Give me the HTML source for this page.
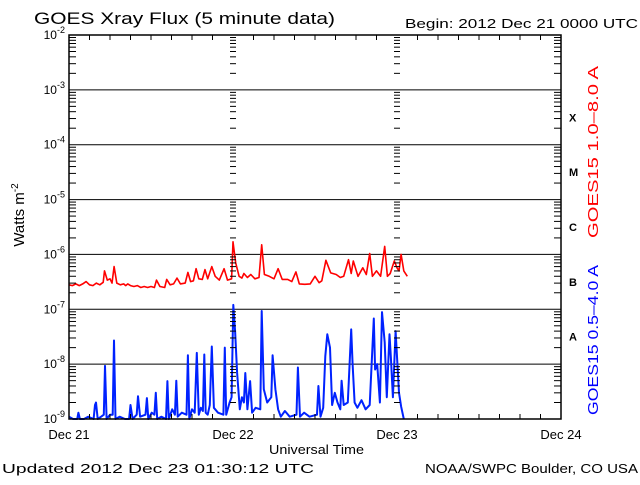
<!DOCTYPE html>
<html><head><meta charset="utf-8"><style>
html,body{margin:0;padding:0;background:#fff;}
svg text{font-family:"Liberation Sans","DejaVu Sans",sans-serif;}
</style></head><body>
<svg id="chart" width="640" height="480" viewBox="0 0 640 480" xmlns="http://www.w3.org/2000/svg">
<rect width="640" height="480" fill="#fff"/>
<text x="34" y="24" font-size="17" textLength="301" lengthAdjust="spacingAndGlyphs" fill="#000">GOES Xray Flux (5 minute data)</text>
<text x="405" y="28" font-size="13" textLength="233" lengthAdjust="spacingAndGlyphs" fill="#000">Begin:  2012 Dec 21 0000 UTC</text>
<g id="grid"></g>
<g id="series"></g>
<g id="axes"></g>
<text transform="translate(24,215) rotate(-90)" font-size="15" text-anchor="middle" fill="#000">Watts m<tspan font-size="10" dy="-6">-2</tspan></text>
<text x="269" y="454" font-size="13" textLength="95" lengthAdjust="spacingAndGlyphs" fill="#000">Universal Time</text>
<text x="2" y="473" font-size="13" textLength="312" lengthAdjust="spacingAndGlyphs" fill="#000">Updated 2012 Dec 23 01:30:12 UTC</text>
<text x="425" y="473" font-size="13" textLength="213" lengthAdjust="spacingAndGlyphs" fill="#000">NOAA/SWPC Boulder, CO USA</text>
<text transform="translate(598,238) rotate(-90)" font-size="15" textLength="172" lengthAdjust="spacingAndGlyphs" fill="#ff0000">GOES15 1.0–8.0 A</text>
<text transform="translate(598,415) rotate(-90)" font-size="15" textLength="150" lengthAdjust="spacingAndGlyphs" fill="#0000ff">GOES15 0.5–4.0 A</text>
</svg>
<script>
const dayLabels = ["Dec 21","Dec 22","Dec 23","Dec 24"];
const decadeExps = [-2,-3,-4,-5,-6,-7,-8,-9];
const classLetters = ["X","M","C","B","A"];
const classExps = [-3.5,-4.5,-5.5,-6.5,-7.5];
const redTimes = [0,0.5,1,1.5,2,2.5,3,3.5,4,4.5,5,5.2,5.6,6,6.3,6.6,7,7.5,8,8.3,8.6,9,9.5,10,10.5,11,11.5,12,12.5,12.8,13.3,14,14.3,14.8,15.3,15.8,16.3,17,17.4,17.8,18.2,18.6,19,19.5,19.9,20.3,20.9,21.4,22,22.7,23.2,23.8,24,24.4,24.9,25.3,25.6,26.1,26.6,27.2,27.8,28.2,28.6,29.3,30,30.6,31.2,32,32.6,33.2,33.7,34.5,35.3,36,36.6,37,37.6,38.3,39.1,39.7,40.2,40.9,41.3,41.6,42.3,43,43.5,44,44.4,45,45.6,46.2,46.6,47,47.6,48,48.3,48.6,49,49.5];
const redValues = [2.8e-7,2.7e-7,2.9e-7,2.7e-7,2.9e-7,3.2e-7,2.8e-7,2.7e-7,3.0e-7,2.8e-7,3.1e-7,5.0e-7,3.4e-7,3.6e-7,3.0e-7,6.0e-7,3.0e-7,2.8e-7,2.9e-7,2.7e-7,2.9e-7,2.7e-7,2.6e-7,2.7e-7,2.5e-7,2.6e-7,2.5e-7,2.6e-7,2.5e-7,3.4e-7,2.6e-7,2.5e-7,3.5e-7,2.8e-7,2.9e-7,3.7e-7,2.9e-7,3.0e-7,4.7e-7,3.2e-7,3.3e-7,5.5e-7,3.6e-7,3.5e-7,5.3e-7,3.6e-7,6.0e-7,4.0e-7,3.4e-7,5.5e-7,3.4e-7,3.6e-7,1.7e-6,7.0e-7,4.0e-7,3.7e-7,4.5e-7,3.8e-7,4.3e-7,3.6e-7,3.8e-7,1.5e-6,4.3e-7,4.0e-7,3.6e-7,5.5e-7,3.5e-7,3.5e-7,3.2e-7,4.8e-7,2.9e-7,2.85e-7,2.9e-7,4.0e-7,3.05e-7,3.3e-7,7.8e-7,4.6e-7,4.3e-7,3.8e-7,4.0e-7,8.0e-7,4.5e-7,7.6e-7,4.0e-7,5.7e-7,4.3e-7,1.04e-6,4.0e-7,5.0e-7,4.0e-7,1.4e-6,4.0e-7,4.5e-7,7.6e-7,5.7e-7,5.0e-7,1.0e-6,5.0e-7,4.0e-7];
const blueTimes = [0,0.6,1.2,1.37,1.6,2.2,2.8,3.6,3.8,3.95,4.2,4.7,5.1,5.27,5.5,6.0,6.4,6.59,6.8,7.4,8.2,8.8,9.0,9.3,9.9,10.1,10.4,11.2,11.4,11.6,12.1,12.5,12.7,12.9,13.5,14.2,14.4,14.6,15.1,15.5,15.7,15.9,16.5,17.2,17.4,17.6,18.0,18.4,18.7,19,19.3,19.6,19.8,20,20.3,20.6,20.9,21.2,21.8,22.6,22.8,23,23.5,23.8,24.05,24.3,24.6,25,25.3,25.6,25.8,26.1,26.5,26.8,27.3,28,28.2,28.5,29,29.6,29.8,30.2,30.6,31,31.6,32.3,33.3,33.5,33.8,34.4,35.2,36.3,36.5,36.8,37.2,37.5,37.8,38.2,38.5,38.9,39.3,39.7,39.9,40.2,40.8,41.3,41.5,41.8,42.2,42.8,43.4,44.0,44.6,44.8,45.1,45.5,45.8,46.2,46.5,46.9,47.1,47.4,47.8,48.3,48.6,49,49.4,49.6];
const blueValues = [1.1e-9,1.0e-9,1.0e-9,1.3e-9,1.0e-9,1.0e-9,1.1e-9,1.0e-9,1.8e-9,2.0e-9,1.0e-9,1.1e-9,1.2e-9,9.3e-9,1.0e-9,1.2e-9,1.2e-9,2.7e-8,1.0e-9,1.1e-9,1.0e-9,1.0e-9,1.8e-9,1.0e-9,1.2e-9,2.6e-9,1.1e-9,1.2e-9,2.4e-9,1.0e-9,1.3e-9,1.2e-9,3.0e-9,1.0e-9,1.1e-9,1.0e-9,4.9e-9,1.0e-9,1.5e-9,1.2e-9,5.0e-9,1.1e-9,1.3e-9,1.2e-9,1.45e-8,1.0e-9,1.5e-9,1.3e-9,1.6e-8,1.2e-9,1.6e-9,1.4e-9,1.5e-8,1.3e-9,1.2e-9,1.8e-9,2.1e-8,1.6e-9,1.3e-9,1.2e-9,2.0e-8,1.2e-9,2.0e-9,2.5e-9,1.2e-7,4.0e-8,7.0e-9,1.5e-9,2.5e-9,2.0e-9,6.9e-9,1.5e-9,4.9e-9,1.3e-9,1.6e-9,1.5e-9,9.3e-8,3.5e-9,2.0e-9,2.5e-9,1.45e-8,3.5e-9,1.5e-9,1.1e-9,1.4e-9,1.1e-9,1.2e-9,8.7e-9,1.1e-9,1.3e-9,1.1e-9,1.2e-9,4.0e-9,1.1e-9,1.6e-9,1.4e-8,3.5e-8,2.0e-8,1.8e-9,3.0e-9,2.0e-9,1.5e-9,5.0e-9,1.8e-9,2.0e-9,4.3e-8,1.0e-8,2.0e-9,1.6e-9,2.2e-9,1.5e-9,1.8e-9,6.8e-8,8.0e-9,1.0e-8,2.0e-9,8.9e-8,2.5e-8,2.5e-9,3.5e-8,1.3e-8,2.5e-9,4.0e-8,3.0e-9,1.7e-9,1.0e-9];

const X0=69, X1=561, Y0=35, Y1=419, TMAX=72, LMIN=-9, LMAX=-2;
function xOf(h){return X0+(X1-X0)*h/TMAX;}
function yOf(v){let l=Math.log10(v); if(l<LMIN) l=LMIN; return Y1-(Y1-Y0)*(l-LMIN)/(LMAX-LMIN);}
function yOfExp(e){return Y1-(Y1-Y0)*(e-LMIN)/(LMAX-LMIN);}
const NS="http://www.w3.org/2000/svg";
function mk(tag,attrs,parent){const e=document.createElementNS(NS,tag);for(const k in attrs)e.setAttribute(k,attrs[k]);parent.appendChild(e);return e;}
const grid=document.getElementById('grid'), axes=document.getElementById('axes'), series=document.getElementById('series');

decadeExps.forEach(function(e){
  const y=yOfExp(e);
  const ln=mk('line',{x1:X0,x2:X1,y1:y,y2:y,stroke:'#000','stroke-width':1},grid);
  
  
  const t=mk('text',{x:X0-4,y:y+4,'font-size':12,'text-anchor':'end',fill:'#000'},axes);
  
  
  t.textContent='10';
  const s=mk('tspan',{'font-size':9,dy:-6},t); s.textContent=String(e);
});
const tickXs=[X0,xOf(24),xOf(48),X1];
for(let e=LMIN;e<LMAX;e++){
  for(let m=2;m<=9;m++){
    const y=yOfExp(e+Math.log10(m));
    tickXs.forEach(function(tx,i){
      let d='';
      if(i===0) d='M'+tx+' '+y+'h7';
      else if(i===3) d='M'+tx+' '+y+'h-7';
      else d='M'+(tx-3)+' '+y+'h6';
      const p=mk('path',{d:d,stroke:'#000','stroke-width':1},axes);
      
      
    });
  }
}
for(let h=3;h<72;h+=3){
  if(h%24===0) continue;
  const x=xOf(h);
  const p=mk('path',{d:'M'+x+' '+Y1+'v-5M'+x+' '+Y0+'v5',stroke:'#000','stroke-width':1},axes);
  
  
}
dayLabels.forEach(function(lab,i){
  const x=xOf(i*24);
  const t=mk('text',{x:x,y:439,'font-size':13,'text-anchor':'middle',fill:'#000'},axes);
  
  
  t.textContent=lab;
});
classLetters.forEach(function(c,i){
  const t=mk('text',{x:569,y:yOfExp(classExps[i])+4,'font-size':11,'font-weight':'bold',fill:'#000','font-family':'Liberation Serif, serif'},axes);
  
  
  t.textContent=c;
});
const frame=mk('rect',{x:X0,y:Y0,width:X1-X0,height:Y1-Y0,fill:'none',stroke:'#000','stroke-width':1.5},axes);



function linePath(ts,vs){
  let d='';
  for(let i=0;i<ts.length;i++){
    const x=xOf(ts[i]).toFixed(1), y=yOf(vs[i]).toFixed(1);
    d+=(i===0?'M':'L')+x+' '+y;
  }
  return d;
}
const red=mk('path',{d:linePath(redTimes,redValues),fill:'none',stroke:'#ff0000','stroke-width':1.6,'stroke-linejoin':'round'},series);


const blue=mk('path',{d:linePath(blueTimes,blueValues),fill:'none',stroke:'#0022ff','stroke-width':2,'stroke-linejoin':'round'},series);


</script>
</body></html>
